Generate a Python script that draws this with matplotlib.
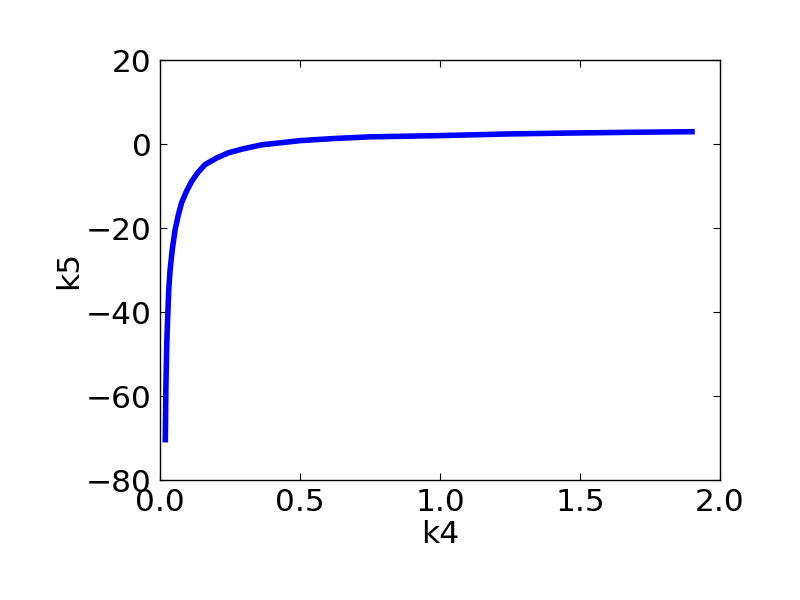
import matplotlib
matplotlib.use('Agg')
import matplotlib.pyplot as plt

k4 = [0.019, 0.021, 0.024, 0.027, 0.031, 0.036, 0.044, 0.054, 0.065, 0.077,
      0.095, 0.113, 0.135, 0.161, 0.2, 0.244, 0.3, 0.363, 0.5, 0.62,
      0.75, 1.0, 1.25, 1.45, 1.7, 1.9]
k5 = [-70.4, -58.0, -48.0, -42.0, -35.0, -30.0, -25.0, -20.4, -17.0, -14.0,
      -11.2, -8.9, -6.8, -4.9, -3.4, -2.1, -1.1, -0.2, 0.8, 1.3,
      1.7, 2.0, 2.4, 2.6, 2.8, 2.93]

fig = plt.figure(figsize=(8, 6), dpi=100, facecolor='white')
ax = fig.add_axes([0.2, 0.2, 0.7, 0.7])
ax.plot(k4, k5, color='blue', linewidth=4)
ax.set_xlim(0, 2)
ax.set_ylim(-80, 20)
ax.set_xticks([0.0, 0.5, 1.0, 1.5, 2.0])
ax.set_yticks([-80, -60, -40, -20, 0, 20])
ax.tick_params(direction='in', top=True, right=True, length=5, labelsize=22.5, pad=6)
ax.set_xlabel('k4', fontsize=22.5, labelpad=2)
ax.set_ylabel('k5', fontsize=22.5, labelpad=2)
for s in ax.spines.values():
    s.set_linewidth(1.0)

fig.savefig('out.png', dpi=100, facecolor='white')
